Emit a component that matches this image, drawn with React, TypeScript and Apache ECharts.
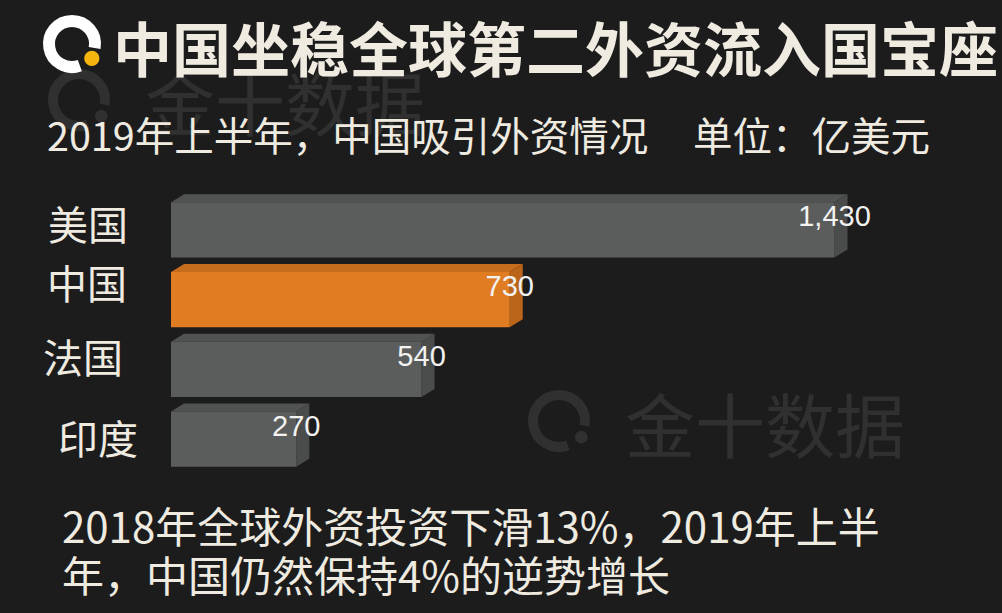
import React, { useEffect, useRef } from "react";
import * as echarts from "echarts";

const categories = ["美国", "中国", "法国", "印度"];
const values = [1430, 730, 540, 270];
const highlight = "中国";
const titleText = "中国坐稳全球第二外资流入国宝座";
const subtitleText = "2019年上半年，中国吸引外资情况";
const unitText = "单位：亿美元";
const noteLines = ["2018年全球外资投资下滑13%，2019年上半", "年，中国仍然保持4%的逆势增长"];
const watermarkText = "金十数据";

const BG = "#1c1c1d";
const CREAM = "#efebe0";
const CJK = '"Noto Sans CJK SC", "Noto Sans", sans-serif';
const GRAY_FACES = { front: "#5b5c5c", top: "#515252", side: "#4a4b4b" };
const ORANGE_FACES = { front: "#e07c22", top: "#c66c1d", side: "#bb651b" };
const DEPTH_X = 13;
const DEPTH_Y = 8;
// per-label nudges [right padding, upward shift]
const LABEL_NUDGE = [
  [10, 7],
  [11, 18],
  [15, 13],
  [0, 2],
];

function logo(cx: number, cy: number, r: number, w: number, ring: string, dot: string, z: number) {
  const a0 = (70 * Math.PI) / 180;
  const a1 = (370 * Math.PI) / 180;
  const da = (36 * Math.PI) / 180;
  return [
    {
      type: "arc",
      z,
      shape: { cx, cy, r, startAngle: a0, endAngle: a1, clockwise: true },
      style: { stroke: ring, lineWidth: w, fill: "none" },
    },
    {
      type: "circle",
      z,
      shape: { cx: cx + (r + 1.5) * Math.cos(da), cy: cy + (r + 1.5) * Math.sin(da), r: w * 0.63 },
      style: { fill: dot },
    },
  ];
}

export default function App() {
  const ref = useRef<HTMLDivElement>(null);
  useEffect(() => {
    document.body.style.margin = "0";
    const chart = echarts.init(ref.current!, null, { renderer: "svg" });
    const rich: Record<string, any> = {};
    categories.forEach((_, i) => {
      const [dx, dy] = LABEL_NUDGE[i];
      rich["l" + i] = {
        fontSize: 40,
        fontFamily: CJK,
        color: CREAM,
        padding: [0, dx, dy * 2, 0],
      };
    });
    chart.setOption({
      animation: false,
      backgroundColor: BG,
      grid: { left: 171, top: 195, width: 696, height: 279 },
      xAxis: { type: "value", min: 0, max: 1500, show: false },
      yAxis: {
        type: "category",
        data: categories,
        inverse: true,
        axisLine: { show: false },
        axisTick: { show: false },
        splitLine: { show: false },
        axisLabel: {
          margin: 33,
          formatter: (v: string, i: number) => `{l${i}|${v}}`,
          rich,
        },
      },
      graphic: [
        ...logo(79, 100, 26, 10, "#303031", "#303031", 0),
        {
          type: "text",
          z: 0,
          x: 145,
          y: 100,
          style: { text: watermarkText, fill: "#303031", font: `70px ${CJK}`, align: "left", verticalAlign: "middle" },
        },
        ...logo(559, 421, 26, 10, "#303031", "#303031", 0),
        {
          type: "text",
          z: 0,
          x: 625,
          y: 422,
          style: { text: watermarkText, fill: "#303031", font: `70px ${CJK}`, align: "left", verticalAlign: "middle" },
        },
        ...logo(72, 44, 23, 12, "#ffffff", "#f6b40f", 10),
        {
          type: "text",
          z: 10,
          x: 113,
          y: 46,
          style: { text: titleText, fill: CREAM, font: `bold 59px ${CJK}`, align: "left", verticalAlign: "middle" },
        },
        {
          type: "text",
          z: 10,
          x: 47,
          y: 133,
          style: { text: subtitleText, fill: CREAM, font: `39.5px ${CJK}`, align: "left", verticalAlign: "middle" },
        },
        {
          type: "text",
          z: 10,
          x: 693,
          y: 133,
          style: { text: unitText, fill: CREAM, font: `39.5px ${CJK}`, align: "left", verticalAlign: "middle" },
        },
        {
          type: "text",
          z: 10,
          x: 62,
          y: 548.5,
          style: {
            text: noteLines.join("\n"),
            fill: CREAM,
            font: `42px ${CJK}`,
            lineHeight: 49,
            align: "left",
            verticalAlign: "middle",
          },
        },
      ],
      series: [
        {
          type: "custom",
          z: 5,
          encode: { x: 0, y: 1 },
          data: values.map((v, i) => [v, i]),
          renderItem: (params: any, api: any) => {
            const v = api.value(0);
            const idx = api.value(1);
            const p0 = api.coord([0, idx]);
            const p1 = api.coord([v, idx]);
            const band = api.size([0, 1])[1];
            const h = band * 0.79;
            const x0 = p0[0];
            const x1 = p1[0];
            const yT = p0[1] - h / 2;
            const yB = p0[1] + h / 2;
            const faces = categories[idx] === highlight ? ORANGE_FACES : GRAY_FACES;
            return {
              type: "group",
              children: [
                {
                  type: "polygon",
                  shape: { points: [[x0, yT], [x0 + DEPTH_X, yT - DEPTH_Y], [x1 + DEPTH_X, yT - DEPTH_Y], [x1, yT]] },
                  style: { fill: faces.top },
                },
                {
                  type: "polygon",
                  shape: { points: [[x1, yT], [x1 + DEPTH_X, yT - DEPTH_Y], [x1 + DEPTH_X, yB - DEPTH_Y], [x1, yB]] },
                  style: { fill: faces.side },
                },
                {
                  type: "rect",
                  shape: { x: x0, y: yT, width: x1 - x0, height: h },
                  style: { fill: faces.front },
                },
                {
                  type: "text",
                  x: x1,
                  y: yT + 14,
                  z2: 10,
                  style: {
                    text: v.toLocaleString("en-US"),
                    fill: "#f2f2f2",
                    font: '29px "Liberation Sans", Arial, sans-serif',
                    align: "center",
                    verticalAlign: "middle",
                  },
                },
              ],
            };
          },
        },
      ],
    });
    return () => chart.dispose();
  }, []);
  return <div ref={ref} style={{ width: 1002, height: 613 }} />;
}
